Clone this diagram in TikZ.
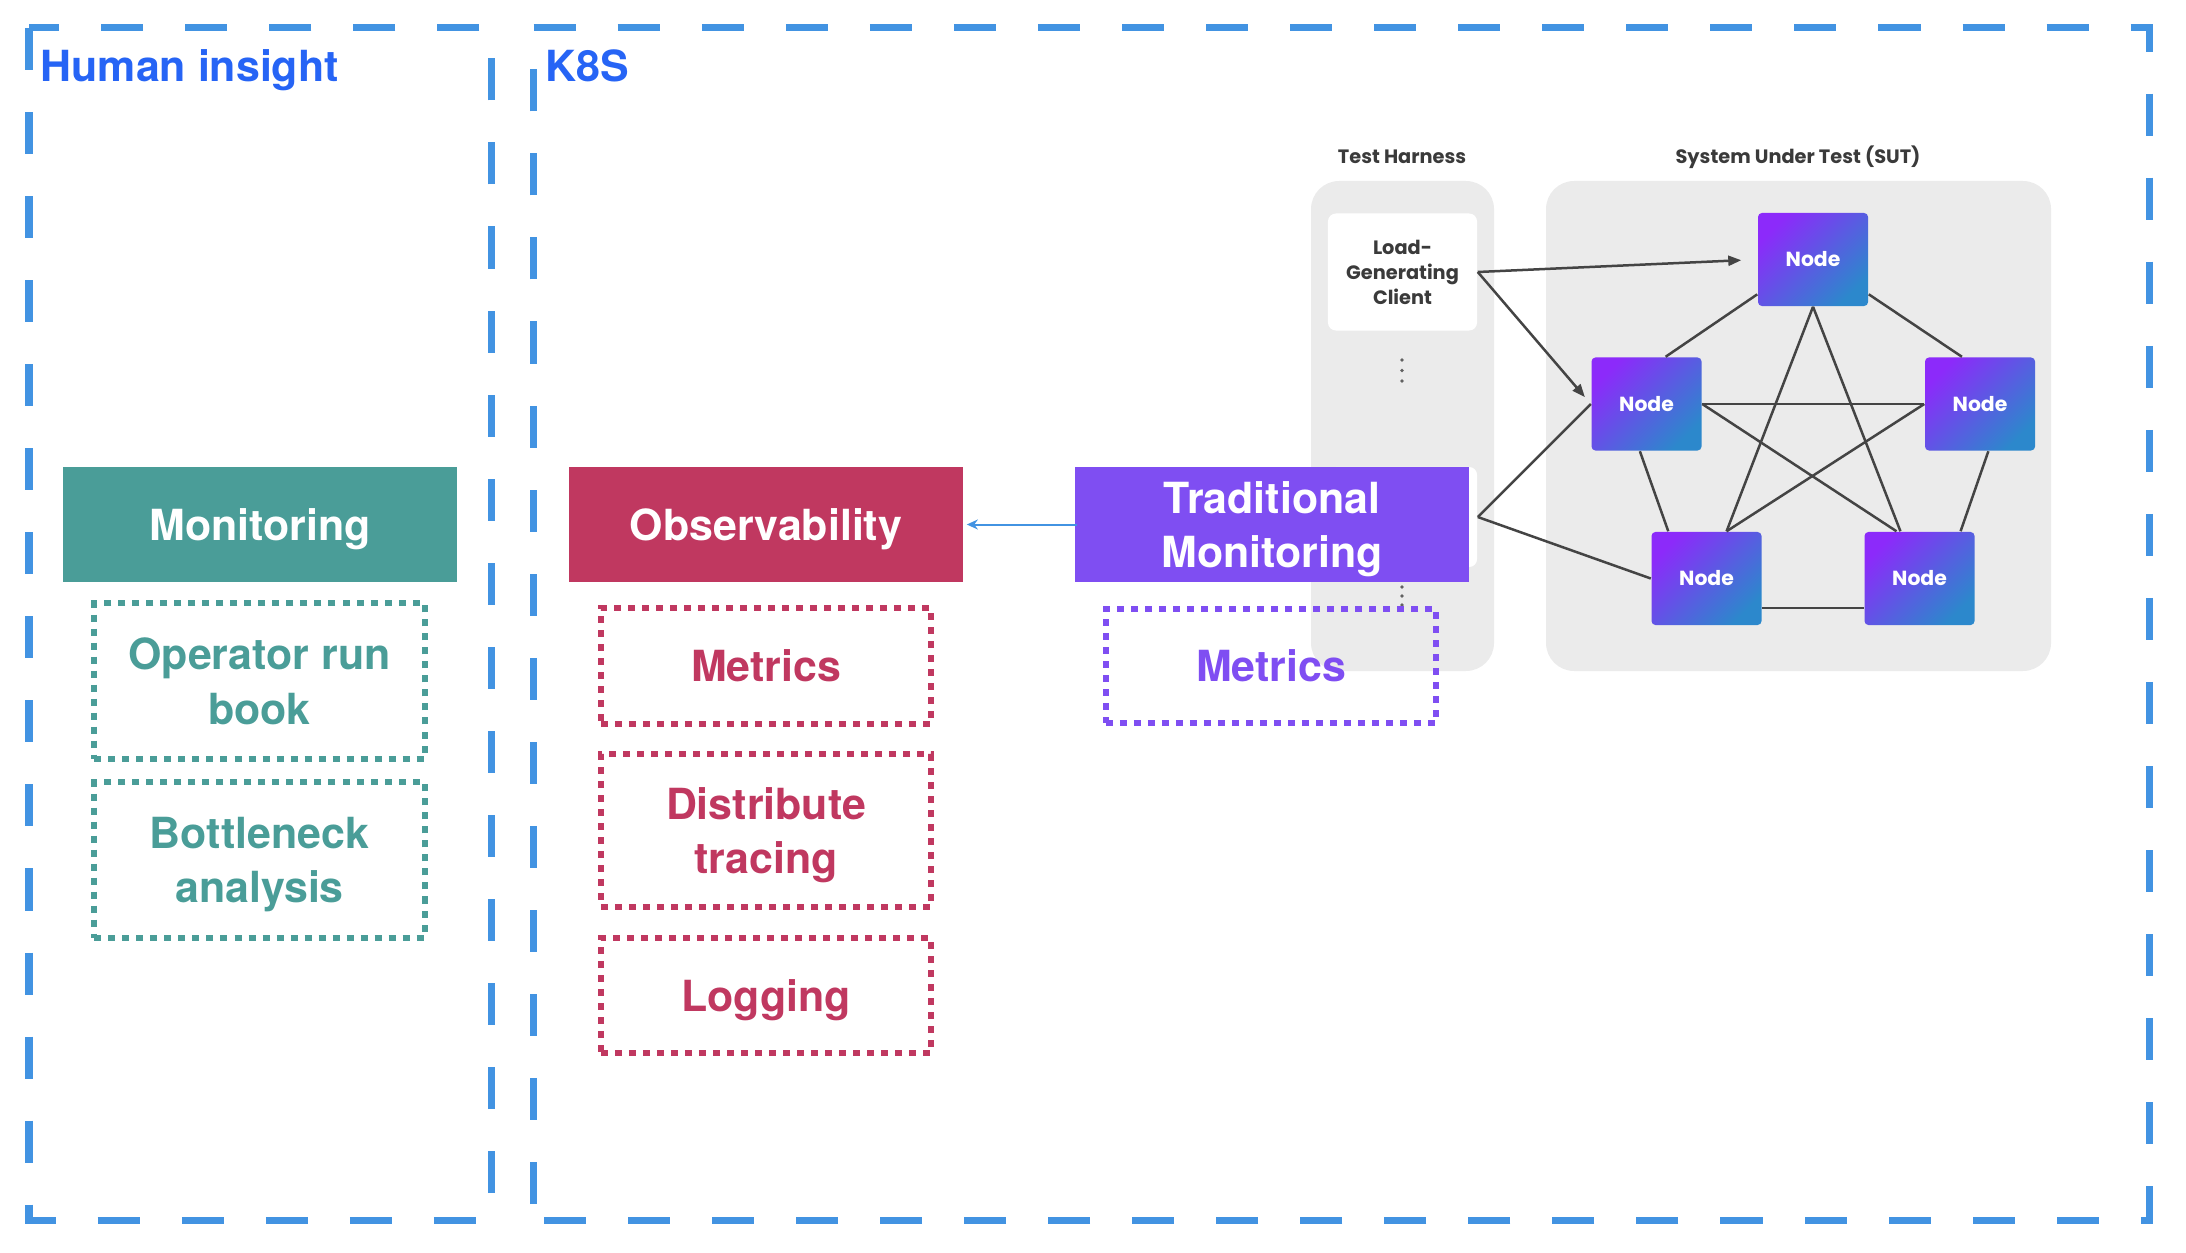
\documentclass[tikz,border=0pt]{standalone}
\usepackage{fontspec}
\setmainfont{TeX Gyre Heros}
\newfontfamily\sutfont{Poppins}
\usetikzlibrary{arrows.meta}
\definecolor{frameblue}{RGB}{66,147,226}
\definecolor{titleblue}{RGB}{38,100,245}
\definecolor{monteal}{RGB}{74,157,152}
\definecolor{obsred}{RGB}{192,56,96}
\definecolor{tradpurple}{RGB}{127,78,242}
\definecolor{panelgray}{RGB}{235,235,235}
\definecolor{wiregray}{RGB}{68,68,68}
\definecolor{labelgray}{RGB}{58,58,58}
\definecolor{nodepurple}{RGB}{140,42,250}
\definecolor{nodeblue}{RGB}{44,136,204}

\begin{document}
\begin{tikzpicture}[x=0.01cm,y=-0.01cm,
  font=\bfseries\fontsize{12.2}{15.5}\selectfont,
  frame/.style={draw=frameblue,line width=0.07cm,dash pattern=on 0.42cm off 0.42cm},
  title/.style={anchor=base west,text=titleblue,inner sep=0pt},
  head/.style={fill=#1,text=white,minimum width=3.94cm,minimum height=1.15cm,inner sep=0pt,
    align=center,text depth=0pt},
  item/.style={draw=#1,text=#1,line width=0.06cm,dash pattern=on 0.07cm off 0.07cm,
    minimum width=3.3cm,inner sep=0pt,align=center,text depth=0pt},
  panel/.style={fill=panelgray,rounded corners=0.28cm},
  card/.style={fill=white,rounded corners=0.08cm,minimum width=1.49cm,
    inner sep=0pt,align=center,text=labelgray,font=\sutfont\bfseries\fontsize{5.5}{7.1}\selectfont},
  caption/.style={text=labelgray,font=\sutfont\bfseries\fontsize{5.5}{7}\selectfont},
  sut/.style={top color=nodepurple,bottom color=nodeblue,shading angle=45,rounded corners=0.04cm,
    minimum width=1.1cm,minimum height=0.93cm,inner sep=0pt,text=white,
    font=\sutfont\bfseries\fontsize{5.8}{7}\selectfont},
  wire/.style={draw=wiregray,line width=0.025cm},
  push/.style={wire,-{Triangle[length=0.13cm,width=0.1cm]}},
  link/.style={draw=frameblue,line width=0.02cm,-{Stealth[length=0.11cm,width=0.1cm]}}]
\useasboundingbox (0,0) rectangle (2186,1252);

% dashed frames
\draw[frame] (29,28) rectangle (491,1220);
\draw[frame,dash phase=0.68cm] (533,1220) -- (533,28) -- (2149,28) -- (2149,1220) -- cycle;
\node[title] (human) at (40,82) {Human insight};
\node[title] (k8s) at (545,82) {K8S};

% test harness and system under test
\fill[panel] (1311,181) rectangle (1494,671);
\fill[panel] (1546,181) rectangle (2051,671);
\node[caption] (harness) at (1402,157) {Test Harness};
\node[caption] (system) at (1798,157) {System Under Test (SUT)};
\node[card,minimum height=1.17cm] (lgc) at (1402.5,272) {Load-\\Generating\\Client};
\node[card,minimum height=1.0cm] (spare) at (1402.5,517) {};
\foreach \y in {360,370.5,381,587,596,605}
  \fill[labelgray!80] (1402,\y) circle (0.018cm);

\node[sut] (t) at (1813,259.5) {Node};
\node[sut] (l) at (1646.5,404) {Node};
\node[sut] (r) at (1980,404) {Node};
\node[sut] (bl) at (1706.5,578.5) {Node};
\node[sut] (br) at (1919.5,578.5) {Node};

\draw[wire] (t.212) -- (l.68);
\draw[wire] (t.328) -- (r.111);
\draw[wire] (t.south) -- (bl.67);
\draw[wire] (t.south) -- (br.112);
\draw[wire] (l.east) -- (r.west);
\draw[wire] (l.east) -- (br.116);
\draw[wire] (r.west) -- (bl.67);
\draw[wire] (l.262) -- (bl.129);
\draw[wire] (r.280) -- (br.49);
\draw[wire] (bl.332) -- (br.208);
\draw[push,shorten >=0.16cm] (lgc.east) -- (t.west);
\draw[push,shorten >=0.09cm] (lgc.east) -- (l.west);
\draw[wire] (spare.east) -- (l.west);
\draw[wire] (spare.east) -- (bl.west);

% headings
\node[head=monteal] (mon) at (260,524.5) {Monitoring};
\node[head=obsred] (obs) at (766,524.5) {Observability};
\node[head=tradpurple] (trad) at (1272,524.5) {Traditional\\Monitoring};
\draw[link,shorten <=-0.03cm,shorten >=0.03cm] (trad.west) -- (obs.east);

% dotted items
\node[item=monteal,minimum height=1.55cm] (runbook) at (259.5,681) {Operator run\\book};
\node[item=monteal,minimum height=1.55cm] (bottleneck) at (259.5,860) {Bottleneck\\analysis};
\node[item=obsred,minimum height=1.16cm] (metrics) at (766,666) {Metrics};
\node[item=obsred,minimum height=1.53cm] (tracing) at (766,830.5) {Distribute\\tracing};
\node[item=obsred,minimum height=1.15cm] (logging) at (766,995.5) {Logging};
\node[item=tradpurple,minimum height=1.14cm] (tmetrics) at (1271,666) {Metrics};
\end{tikzpicture}
\end{document}
